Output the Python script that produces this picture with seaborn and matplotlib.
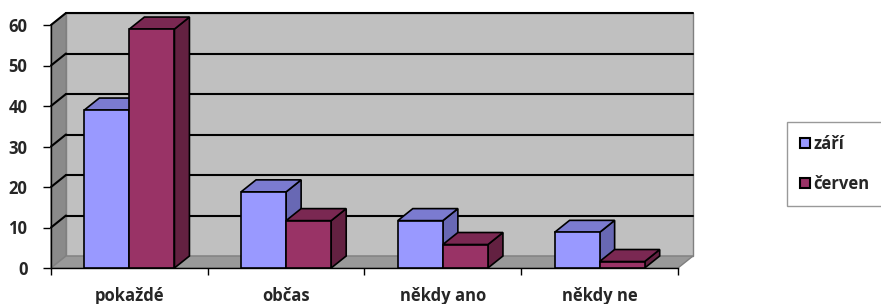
import numpy as np
import pandas as pd
import matplotlib
matplotlib.use("Agg")
import matplotlib.pyplot as plt
import seaborn as sns
from matplotlib.patches import Polygon, Patch

### Data
kategorie = ["pokaždé", "občas", "někdy ano", "někdy ne"]
obdobi = ["září", "červen"]
zari = [39, 18.8, 11.7, 8.8]
cerven = [59, 11.7, 5.8, 1.6]

barvy = {"září": "#9999ff", "červen": "#993366"}
barvy_vrch = {"září": "#7b7bd0", "červen": "#7a2852"}
barvy_bok = {"září": "#6868b4", "červen": "#632141"}

dados = pd.DataFrame({
    "kategorie": kategorie * 2,
    "obdobi": [obdobi[0]] * len(zari) + [obdobi[1]] * len(cerven),
    "hodnota": zari + cerven,
})

sns.set_style("white")
plt.rcParams["font.family"] = ["Open Sans", "DejaVu Sans"]
plt.rcParams["font.weight"] = "bold"
velikost = 12
plt.rcParams["font.size"] = velikost

fig = plt.figure(figsize=(8.81, 3.04), dpi=100)
ax = fig.add_axes([51 / 881, 36 / 304, 627 / 881, 243 / 304])

sns.barplot(data=dados, x="kategorie", y="hodnota", hue="obdobi", hue_order=obdobi,
            palette=barvy, width=0.575, saturation=1, edgecolor="black",
            linewidth=1, legend=False, ax=ax)
sloupce = list(ax.patches)
skupiny = [obdobi[0]] * len(zari) + [obdobi[1]] * len(cerven)

x0, x1, ymax = -0.5, len(kategorie) - 0.5, 60
ax.set_xlim(x0, x1)
ax.set_ylim(0, ymax)

# 3D posun (v pixelech -> data)
dx = 15 / 627 * (x1 - x0)
dy = 12 / 243 * ymax

### Stěny
ax.add_patch(Polygon([(x0 + dx, dy), (x1 + dx, dy), (x1 + dx, ymax + dy), (x0 + dx, ymax + dy)],
                     closed=True, fc="#c0c0c0", ec="#808080", lw=1, clip_on=False, zorder=0))
ax.add_patch(Polygon([(x0, 0), (x0 + dx, dy), (x0 + dx, ymax + dy), (x0, ymax)],
                     closed=True, fc="#8a8a8a", ec="#808080", lw=1, clip_on=False, zorder=1))
ax.add_patch(Polygon([(x0, 0), (x1, 0), (x1 + dx, dy), (x0 + dx, dy)],
                     closed=True, fc="#999999", ec="#808080", lw=1, clip_on=False, zorder=1))
for t in range(10, ymax + 1, 10):
    ax.plot([x0 + dx, x1 + dx], [t + dy, t + dy], color="black", lw=1.5, clip_on=False, zorder=2)
    ax.plot([x0, x0 + dx], [t, t + dy], color="black", lw=1.5, clip_on=False, zorder=2)

### 3D sloupce
poradi = sorted(range(len(sloupce)), key=lambda i: sloupce[i].get_x())
for k, i in enumerate(poradi):
    p = sloupce[i]
    x, w, h = p.get_x(), p.get_width(), p.get_height()
    s = skupiny[i]
    bok = [(x + w, 0), (x + w, h), (x + w + dx, h + dy), (x + w + dx, dy)]
    vrch = [(x, h), (x + w, h), (x + w + dx, h + dy), (x + dx, h + dy)]
    ax.add_patch(Polygon(bok, closed=True, fc=barvy_bok[s], ec="black", lw=1.2,
                         clip_on=False, zorder=3 + 3 * k))
    ax.add_patch(Polygon(vrch, closed=True, fc=barvy_vrch[s], ec="black", lw=1.2,
                         clip_on=False, zorder=4 + 3 * k))
    p.set_linewidth(1.2)
    p.set_zorder(5 + 3 * k)
    p.set_clip_on(False)

### Osy
for sp in ["top", "right"]:
    ax.spines[sp].set_visible(False)
for sp in ["left", "bottom"]:
    ax.spines[sp].set_color("black")
    ax.spines[sp].set_linewidth(1)
    ax.spines[sp].set_zorder(2)

ax.set_yticks(range(0, ymax + 1, 10))
ax.set_xticks(range(len(kategorie)))
ax.set_xticklabels(kategorie, fontweight="bold")
ax.set_xticks(np.arange(x0, x1 + 0.1, 1), minor=True)
ax.tick_params(axis="y", left=True, length=6, width=1, color="black", pad=11, labelsize=velikost)
ax.tick_params(axis="x", which="major", bottom=True, length=0, pad=14, labelsize=velikost)
ax.tick_params(axis="x", which="minor", bottom=True, length=5, width=1, color="black")
for lab in ax.get_yticklabels():
    lab.set_fontweight("bold")
ax.set_xlabel("")
ax.set_ylabel("")

### Legenda
ruce = [Patch(facecolor=barvy[o], edgecolor="black", lw=1.5) for o in obdobi]
leg = ax.legend(ruce, obdobi, loc="upper left",
                bbox_to_anchor=(787 / 881, 1 - 203 / 304, 100 / 881, 81 / 304),
                bbox_transform=fig.transFigure, mode="expand", borderaxespad=0,
                frameon=True, fancybox=False, edgecolor="#808080",
                handlelength=0.55, handleheight=0.55, handletextpad=0.25,
                labelspacing=1.3, borderpad=0.8, prop={"weight": "bold", "size": velikost})
leg.get_frame().set_linewidth(1)

fig.savefig("out.png", dpi=100)
